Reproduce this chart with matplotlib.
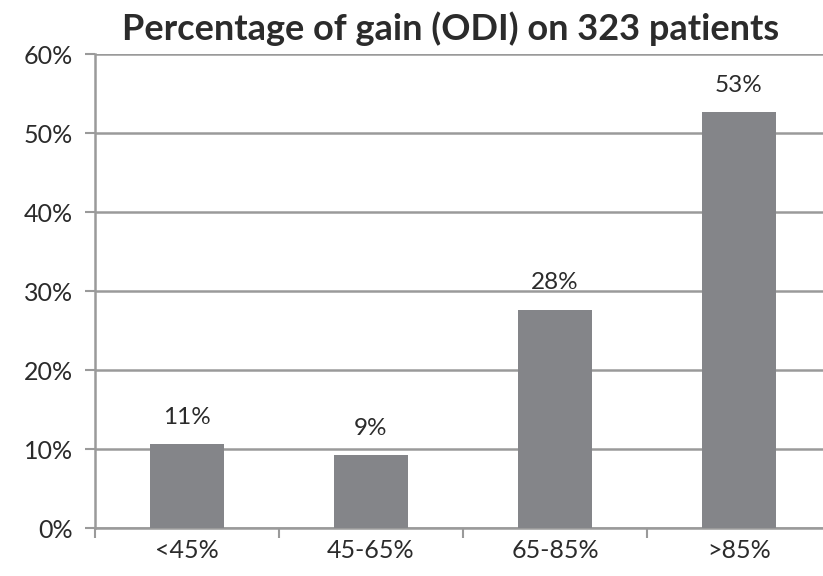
import matplotlib.pyplot as plt
from matplotlib.ticker import FuncFormatter

categories = ["<45%", "45-65%", "65-85%", ">85%"]
gain_pct = [10.6, 9.2, 27.6, 52.6]
y_ticks = [0, 10, 20, 30, 40, 50, 60]

bar_color = "#848589"
grid_color = "#9a9a9a"
text_color = "#2b2b2b"
font = "Lato"

fig = plt.figure(figsize=(8.23, 5.76), dpi=100)
ax = fig.add_axes([0.1154, 0.0833, 0.8943, 0.8229])

x = list(range(len(categories)))
ax.bar(x, gain_pct, width=0.40, color=bar_color, zorder=3)

for xi, v in zip(x, gain_pct):
    ax.annotate(f"{v:.0f}%", (xi, v), xytext=(0, 12), textcoords="offset points",
                ha="center", va="bottom", fontsize=17.5, color=text_color,
                family=font)

ax.set_xlim(-0.5, len(categories) - 0.5)
ax.set_ylim(0, 60)
ax.set_yticks(y_ticks)
ax.yaxis.set_major_formatter(FuncFormatter(lambda v, p: f"{v:.0f}%"))
ax.grid(axis="y", color=grid_color, linewidth=1.8, zorder=0)

# category labels centred under bars, ticks on the boundaries
ax.set_xticks(x)
ax.set_xticklabels(categories)
ax.set_xticks([i - 0.5 for i in range(len(categories) + 1)], minor=True)
ax.tick_params(axis="x", which="major", length=0, pad=8)
ax.tick_params(axis="x", which="minor", length=7, width=1.5, color=grid_color)
ax.tick_params(axis="y", length=7, width=1.5, color=grid_color, pad=9)

for lbl in ax.get_xticklabels() + ax.get_yticklabels():
    lbl.set_fontsize(18)
    lbl.set_color(text_color)
    lbl.set_family(font)

for side in ["top", "right"]:
    ax.spines[side].set_visible(False)
for side in ["left", "bottom"]:
    ax.spines[side].set_color(grid_color)
    ax.spines[side].set_linewidth(1.8)

fig.text(0.548, 0.951, "Percentage of gain (ODI) on 323 patients", ha="center",
         va="center", fontsize=26, fontweight="bold", color=text_color,
         family=font)

fig.savefig("out.png", dpi=100, facecolor="white")
